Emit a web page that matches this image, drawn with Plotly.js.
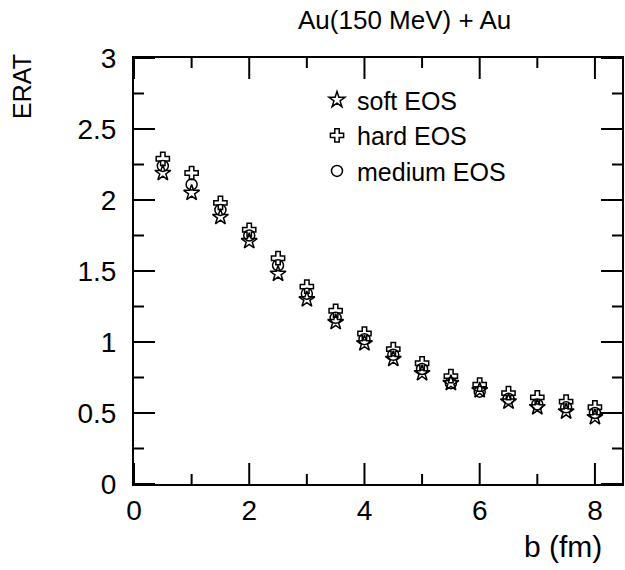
<!DOCTYPE html>
<html>
<head>
<meta charset="utf-8">
<script src="https://cdn.plot.ly/plotly-3.0.1.min.js"></script>
<style>html,body{margin:0;padding:0;background:#fff;}</style>
</head>
<body>
<div id="chart" style="width:625px;height:570px;"></div>
<script>
const impactParam = [0.5, 1.0, 1.5, 2.0, 2.5, 3.0, 3.5, 4.0, 4.5, 5.0, 5.5, 6.0, 6.5, 7.0, 7.5, 8.0];
const softEOS   = [2.19, 2.05, 1.88, 1.71, 1.48, 1.30, 1.14, 0.99, 0.88, 0.78, 0.71, 0.66, 0.58, 0.54, 0.51, 0.47];
const hardEOS   = [2.29, 2.19, 1.98, 1.79, 1.59, 1.39, 1.22, 1.06, 0.95, 0.85, 0.76, 0.70, 0.64, 0.61, 0.58, 0.54];
const mediumEOS = [2.24, 2.11, 1.93, 1.75, 1.54, 1.34, 1.17, 1.02, 0.91, 0.81, 0.71, 0.65, 0.60, 0.56, 0.54, 0.50];
const seriesNames = ['soft EOS', 'hard EOS', 'medium EOS'];
const xMajorTicks = [0, 2, 4, 6, 8];
const xMinorTicks = [1, 3, 5, 7];
const yMajorTicks = [0, 0.5, 1, 1.5, 2, 2.5, 3];
const yMinorTicks = [0.25, 0.75, 1.25, 1.75, 2.25, 2.75];

const FONT = 'Liberation Sans, Arial, sans-serif';
const W = 625, H = 570, M = {l: 134, r: 3, t: 58, b: 86};
const XR = [0, 8.47], YR = [0, 3];
const plotW = W - M.l - M.r, plotH = H - M.t - M.b;
const MAJ = 21, MIN = 10;
const mk = (sym, size) => ({symbol: sym, size: size, color: '#000', line: {color: '#000', width: 1.5}});

// tick marks on all four sides as a line trace built from the tick arrays
const xPerPx = (XR[1] - XR[0]) / plotW, yPerPx = (YR[1] - YR[0]) / plotH;
const tx = [], ty = [];
function xTick(v, len) {
  const d = len * yPerPx;
  tx.push(v, v, null, v, v, null); ty.push(YR[0], YR[0] + d, null, YR[1] - d, YR[1], null);
}
function yTick(v, len) {
  const d = len * xPerPx;
  tx.push(XR[0], XR[0] + d, null, XR[1] - d, XR[1], null); ty.push(v, v, null, v, v, null);
}
xMajorTicks.forEach(v => xTick(v, MAJ));
xMinorTicks.forEach(v => xTick(v, MIN));
yMajorTicks.forEach(v => yTick(v, MAJ));
yMinorTicks.forEach(v => yTick(v, MIN));

const traces = [
  {x: tx, y: ty, mode: 'lines', type: 'scatter', showlegend: false, hoverinfo: 'skip', connectgaps: false,
   cliponaxis: false, line: {color: '#000', width: 2}},
  {x: impactParam, y: softEOS, name: seriesNames[0], mode: 'markers', type: 'scatter', marker: mk('star-open', 12)},
  {x: impactParam, y: hardEOS, name: seriesNames[1], mode: 'markers', type: 'scatter', marker: mk('cross-open', 11)},
  {x: impactParam, y: mediumEOS, name: seriesNames[2], mode: 'markers', type: 'scatter', marker: mk('circle-open', 11)}
];

const layout = {
  width: W, height: H,
  margin: M,
  paper_bgcolor: '#fff', plot_bgcolor: '#fff',
  showlegend: true,
  legend: {x: 0.375, y: 0.955, xanchor: 'left', yanchor: 'top', bgcolor: 'rgba(0,0,0,0)',
           font: {family: FONT, size: 25, color: '#000'}, tracegroupgap: 0},
  xaxis: {range: XR, tickmode: 'array', tickvals: xMajorTicks, ticktext: xMajorTicks.map(String),
    ticks: '', showline: true, mirror: true, linecolor: '#000', linewidth: 2, showgrid: false, zeroline: false,
    tickfont: {family: FONT, size: 28, color: '#000'}},
  yaxis: {range: YR, tickmode: 'array', tickvals: yMajorTicks, ticktext: yMajorTicks.map(String),
    ticks: '', showline: true, mirror: true, linecolor: '#000', linewidth: 2, showgrid: false, zeroline: false,
    ticklabelstandoff: 10,
    tickfont: {family: FONT, size: 28, color: '#000'}},
  annotations: [
    {text: 'Au(150 MeV) + Au', xref: 'paper', yref: 'paper', x: 0.555, y: 1.089, xanchor: 'center', yanchor: 'middle',
     showarrow: false, font: {family: FONT, size: 26, color: '#000'}},
    {text: 'ERAT', xref: 'paper', yref: 'paper', x: -0.23, y: 0.934, xanchor: 'center', yanchor: 'middle', textangle: -90,
     showarrow: false, font: {family: FONT, size: 25, color: '#000'}},
    {text: 'b (fm)', xref: 'paper', yref: 'paper', x: 0.879, y: -0.146, xanchor: 'center', yanchor: 'middle',
     showarrow: false, font: {family: FONT, size: 30, color: '#000'}}
  ]
};

Plotly.newPlot('chart', traces, layout, {displayModeBar: false});
</script>
</body>
</html>
